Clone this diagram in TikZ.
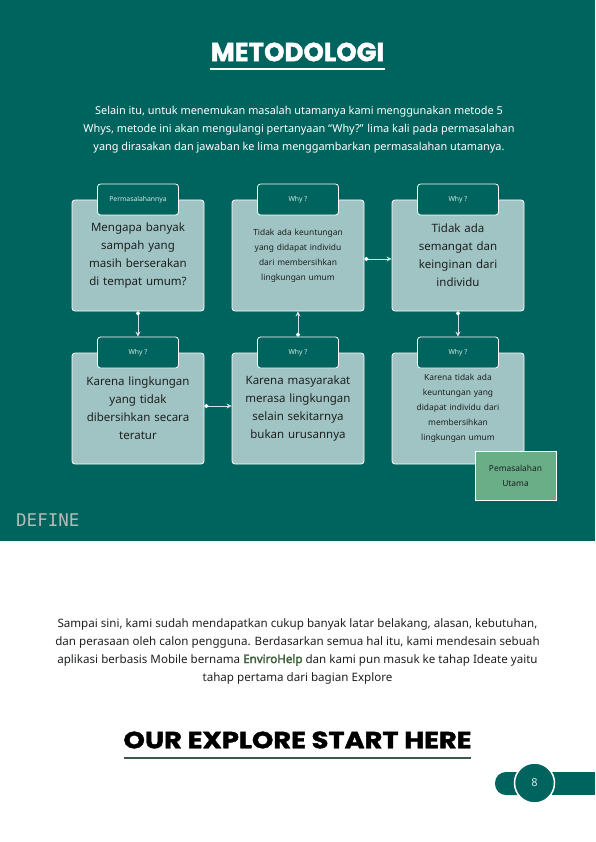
\documentclass[tikz,border=0pt]{standalone}
\usepackage{fontspec}
\usepackage{graphicx}
\setmainfont{Noto Sans}[BoldFont={Noto Sans},BoldFeatures={FakeBold=2.5}]
\newfontfamily\headfont{Poppins}[BoldFeatures={FakeBold=1.5}]
\newfontfamily\monofont{DejaVu Sans Mono}
\usetikzlibrary{arrows.meta}
\definecolor{pageteal}{RGB}{0,100,94}
\definecolor{boxfill}{RGB}{160,196,196}
\definecolor{mainfill}{RGB}{106,174,136}
\definecolor{linkcol}{RGB}{205,228,228}
\definecolor{darktext}{RGB}{30,32,32}
\definecolor{linegreen}{RGB}{58,90,70}
\definecolor{envgreen}{RGB}{62,96,58}
\definecolor{tabtext}{RGB}{215,232,232}
\tikzset{
    whybox/.style={draw=white,line width=0.8pt,fill=boxfill,rounded corners=3pt,
        minimum width=132pt,minimum height=111pt,text width=124pt,align=center,text=darktext},
    bigtext/.style={font=\fontsize{11.5}{18}\selectfont},
    smalltext/.style={font=\fontsize{8.4}{15}\selectfont},
    tab/.style={draw=white,line width=0.8pt,fill=pageteal,rounded corners=3pt,
        minimum width=81pt,minimum height=31pt,text=tabtext,font=\fontsize{6.8}{8}\selectfont},
    link/.style={draw=linkcol,line width=1pt,arrows={Circle[length=4pt,color=white]-Stealth[length=5pt,width=5pt]}},
    para/.style={align=center,font=\fontsize{11.4}{18}\selectfont},
}

\begin{document}
\begin{tikzpicture}[x=1pt,y=-1pt]
\useasboundingbox (0,0) rectangle (595,842);
\fill[pageteal] (0,0) rectangle (595,541);
% judul atas
\node[text=white,font=\headfont\bfseries\fontsize{26}{30}\selectfont,inner sep=0pt] (judul) at (297.5,52) {METODOLOGI};
\draw[white,line width=2.5pt] (210,69) -- (385,69);
\node[para,text=white,font=\fontsize{10.9}{18}\selectfont] (intro) at (299,130) {Selain itu, untuk menemukan masalah utamanya kami menggunakan metode 5\\Whys, metode ini akan mengulangi pertanyaan “Why?” lima kali pada permasalahan\\yang dirasakan dan jawaban ke lima menggambarkan permasalahan utamanya.};
% kotak 5 whys
\node[whybox,bigtext] (b1) at (138,255.5) {Mengapa banyak\\sampah yang\\masih berserakan\\di tempat umum?};
\node[whybox,smalltext] (b2) at (298,255.5) {Tidak ada keuntungan\\yang didapat individu\\dari membersihkan\\lingkungan umum};
\node[whybox,bigtext] (b3) at (458,255.5) {Tidak ada\\semangat dan\\keinginan dari\\individu};
\node[whybox,bigtext] (b4) at (138,408.5) {Karena lingkungan\\yang tidak\\dibersihkan secara\\teratur};
\node[whybox,bigtext] (b5) at (298,408.5) {Karena masyarakat\\merasa lingkungan\\selain sekitarnya\\bukan urusannya};
\node[whybox,smalltext] (b6) at (458,408.5) {Karena tidak ada\\keuntungan yang\\didapat individu dari\\membersihkan\\lingkungan umum};
\node[tab] (t1) at (138,199.5) {Permasalahannya};
\node[tab] (t2) at (298,199.5) {Why ?};
\node[tab] (t3) at (458,199.5) {Why ?};
\node[tab] (t4) at (138,352.5) {Why ?};
\node[tab] (t5) at (298,352.5) {Why ?};
\node[tab] (t6) at (458,352.5) {Why ?};
\node[draw=white,line width=0.8pt,fill=mainfill,minimum width=81pt,minimum height=49pt,
    align=center,text=darktext,font=\fontsize{8.4}{15}\selectfont] (utama) at (515.5,475.5) {Pemasalahan\\Utama};
% panah
\draw[link] (b1.south) -- (t4.north);
\draw[link] ([yshift=2.5pt]b4.east) -- ([yshift=2.5pt]b5.west);
\draw[link] (t5.north) -- (b2.south);
\draw[link] ([yshift=-3.5pt]b2.east) -- ([yshift=-3.5pt]b3.west);
\draw[link] (b3.south) -- (t6.north);
\node[anchor=west,text=gray!55,font=\monofont\fontsize{17.5}{20}\selectfont,inner sep=0pt] (define) at (16,520) {DEFINE};
% bagian bawah
\node[para,text=darktext,font=\fontsize{11.6}{18}\selectfont] (penutup) at (297.5,651) {Sampai sini, kami sudah mendapatkan cukup banyak latar belakang, alasan, kebutuhan,\\dan perasaan oleh calon pengguna. Berdasarkan semua hal itu, kami mendesain sebuah\\aplikasi berbasis Mobile bernama \textcolor{envgreen}{\bfseries EnviroHelp} dan kami pun masuk ke tahap Ideate yaitu\\tahap pertama dari bagian Explore};
\node[text=black,font=\headfont\bfseries\fontsize{23.5}{28}\selectfont,inner sep=0pt] (judulbawah) at (297.5,740) {\scalebox{1.16}[1]{OUR EXPLORE START HERE}};
\draw[linegreen,line width=2.5pt] (124,758) -- (471,758);
% nomor halaman
\fill[pageteal,rounded corners=11pt] (495,772) rectangle (530,795);
\fill[pageteal] (540,772) rectangle (595,795);
\node[circle,fill=pageteal,draw=white,line width=1.5pt,minimum size=40pt,text=tabtext,font=\fontsize{11}{13}\selectfont] (hal) at (534.5,783) {8};
\end{tikzpicture}
\end{document}
